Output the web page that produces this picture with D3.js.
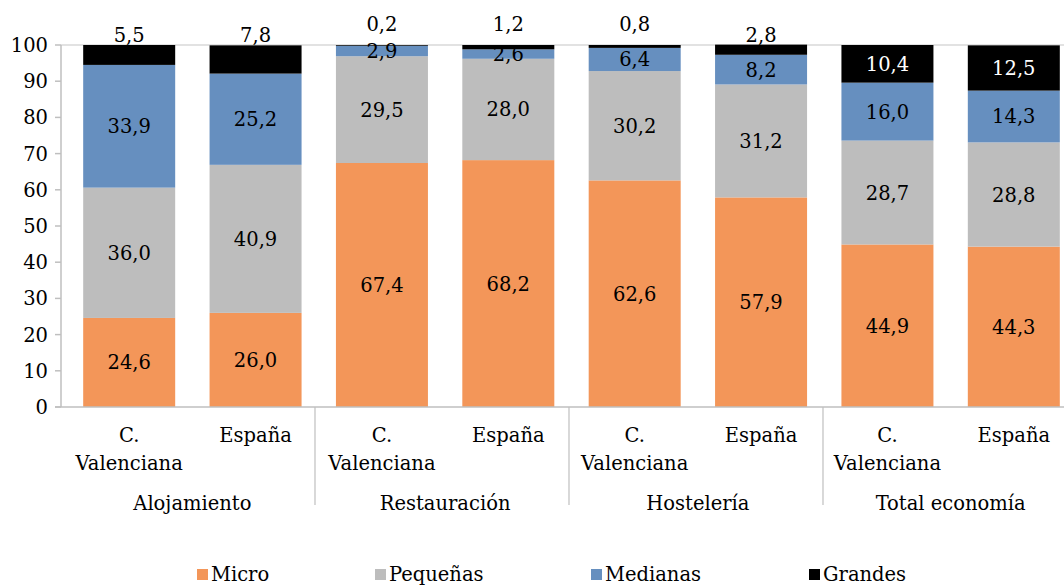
<!DOCTYPE html>
<html><head><meta charset="utf-8">
<script src="https://cdn.jsdelivr.net/npm/d3@7/dist/d3.min.js"></script>
<style>
body{margin:0;background:#fff;}
text{font-family:"DejaVu Serif",serif;font-size:19.5px;fill:#000;}
</style></head>
<body><svg id="c" width="1064" height="586"></svg>
<script>
const groups = ["Alojamiento","Restauración","Hostelería","Total economía"];
const regions = ["C. Valenciana","España"];
const seriesNames = ["Micro","Pequeñas","Medianas","Grandes"];
const micro    = [24.6, 26.0, 67.4, 68.2, 62.6, 57.9, 44.9, 44.3];
const pequenas = [36.0, 40.9, 29.5, 28.0, 30.2, 31.2, 28.7, 28.8];
const medianas = [33.9, 25.2, 2.9, 2.6, 6.4, 8.2, 16.0, 14.3];
const grandes  = [5.5, 7.8, 0.2, 1.2, 0.8, 2.8, 10.4, 12.5];
const yTicks = [0,10,20,30,40,50,60,70,80,90,100];
const colors = ["#F39659","#BDBDBD","#668FBF","#000000"];

const svg = d3.select("#c");
const y = d3.scaleLinear().domain([0,100]).range([407,45]);
const bars = d3.range(8);
const x = d3.scaleBand().domain(bars).range([66,1077]).paddingInner(0.272).paddingOuter(0.136);
const gx = d3.scaleBand().domain(groups).range([61,1077]);
const fmt = v => v.toFixed(1).replace(".", ",");

svg.append("line").attr("x1",61).attr("x2",1064).attr("y1",y(100)).attr("y2",y(100)).attr("stroke","#D9D9D9").attr("stroke-width",1.5);

const seriesData = [micro,pequenas,medianas,grandes];
bars.forEach(i=>{
  let base = 0;
  seriesData.forEach((s,k)=>{
    const v = s[i];
    svg.append("rect").attr("x",x(i)).attr("width",x.bandwidth())
      .attr("y",y(base+v)).attr("height",y(base)-y(base+v)).attr("fill",colors[k]);
    const mid = base + v/2;
    let ty = y(mid) + 7, col = "#000";
    if (k===3) {
      if (v < 9) { ty = v < 2 ? 31 : 42; }
      else col = "#fff";
    }
    svg.append("text").attr("x",x(i)+x.bandwidth()/2).attr("y",ty)
      .attr("text-anchor","middle").style("fill",col).text(fmt(v));
    base += v;
  });
});

svg.append("line").attr("x1",61).attr("x2",61).attr("y1",y(0)).attr("y2",y(100)).attr("stroke","#BFBFBF").attr("stroke-width",1.5);
yTicks.forEach(t=>{
  svg.append("line").attr("x1",55).attr("x2",61).attr("y1",y(t)).attr("y2",y(t)).attr("stroke","#BFBFBF").attr("stroke-width",1.5);
  svg.append("text").attr("x",48).attr("y",y(t)+7).attr("text-anchor","end").text(t);
});
svg.append("line").attr("x1",55).attr("x2",1064).attr("y1",y(0)).attr("y2",y(0)).attr("stroke","#BFBFBF").attr("stroke-width",1.5);
groups.forEach((g,gi)=>{
  if (gi>0) svg.append("line").attr("x1",gx(g)).attr("x2",gx(g)).attr("y1",y(0)).attr("y2",505).attr("stroke","#BFBFBF").attr("stroke-width",1.2);
  svg.append("text").attr("x",(x(gi*2)+x(gi*2+1)+x.bandwidth())/2).attr("y",510).attr("text-anchor","middle").text(g);
  regions.forEach((r,ri)=>{
    const cx = x(gi*2+ri)+x.bandwidth()/2;
    if (ri===0) {
      svg.append("text").attr("x",cx).attr("y",442).attr("text-anchor","middle").text("C.");
      svg.append("text").attr("x",cx).attr("y",470).attr("text-anchor","middle").text("Valenciana");
    } else {
      svg.append("text").attr("x",cx).attr("y",442).attr("text-anchor","middle").text(r);
    }
  });
});
const legX = [197,375,591,809];
seriesNames.forEach((n,k)=>{
  svg.append("rect").attr("x",legX[k]).attr("y",569).attr("width",11).attr("height",11).attr("fill",colors[k]);
  svg.append("text").attr("x",legX[k]+14).attr("y",581).text(n);
});
</script></body></html>
